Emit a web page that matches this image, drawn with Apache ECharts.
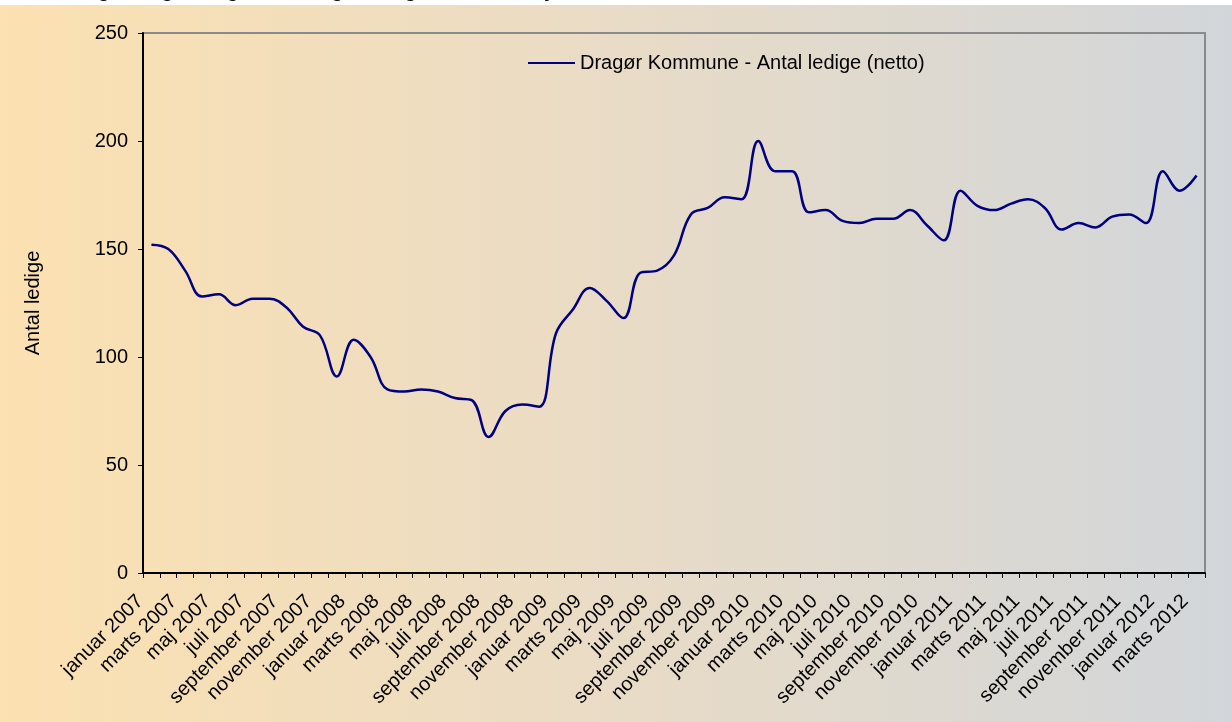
<!DOCTYPE html>
<html>
<head>
<meta charset="utf-8">
<script src="https://cdn.jsdelivr.net/npm/echarts@6/dist/echarts.min.js"></script>
<style>
html,body{margin:0;padding:0;background:#fff;}
#chart{width:1232px;height:722px;}
</style>
</head>
<body>
<div id="chart"></div>
<script>
const categories = [
  "januar 2007","februar 2007","marts 2007","april 2007","maj 2007","juni 2007","juli 2007","august 2007","september 2007","oktober 2007","november 2007","december 2007",
  "januar 2008","februar 2008","marts 2008","april 2008","maj 2008","juni 2008","juli 2008","august 2008","september 2008","oktober 2008","november 2008","december 2008",
  "januar 2009","februar 2009","marts 2009","april 2009","maj 2009","juni 2009","juli 2009","august 2009","september 2009","oktober 2009","november 2009","december 2009",
  "januar 2010","februar 2010","marts 2010","april 2010","maj 2010","juni 2010","juli 2010","august 2010","september 2010","oktober 2010","november 2010","december 2010",
  "januar 2011","februar 2011","marts 2011","april 2011","maj 2011","juni 2011","juli 2011","august 2011","september 2011","oktober 2011","november 2011","december 2011",
  "januar 2012","februar 2012","marts 2012"
];
const seriesName = "Dragør Kommune - Antal ledige (netto)";
const ledige = [
  152,150,140,128,129,124,127,127,123,114,110,91,
  108,100,85,84,85,84,81,80,63,75,78,77,
  111,122,132,126,118,139,140,147,166,169,174,173,
  200,186,186,167,168,163,162,164,164,168,161,154,
  177,170,168,171,173,169,159,162,160,165,166,162,
  186,177,184
];
const yTicks = [0, 50, 100, 150, 200, 250];
const titleText = "Udvikling i ledighed og antal ledige i Dragør Kommune januar 2007 - marts 2012";
const yAxisTitle = "Antal ledige";

const font = "Liberation Sans, Arial, sans-serif";
const chart = echarts.init(document.getElementById('chart'), null, {renderer: 'canvas'});
chart.setOption({
  animation: false,
  backgroundColor: '#ffffff',
  graphic: [
    {
      type: 'rect', z: -10, silent: true,
      shape: {x: 0, y: 5, width: 1232, height: 717},
      style: {
        fill: new echarts.graphic.LinearGradient(0, 0, 1, 0, [
          {offset: 0, color: '#FCE1B1'},
          {offset: 0.45, color: '#EBDCC4'},
          {offset: 1, color: '#D2D6DA'}
        ])
      }
    },
    {
      type: 'text', z: 10, silent: true,
      left: 20, top: -19,
      style: {text: titleText, font: 'bold 20px ' + font, fill: '#000'}
    }
  ],
  legend: {
    show: true,
    left: 528, top: 53, padding: 0,
    itemWidth: 47, itemHeight: 14, itemGap: 10,
    icon: 'path://M0,6 L47,6 L47,8 L0,8 Z',
    textStyle: {fontFamily: font, fontSize: 20, color: '#000'},
    data: [{name: seriesName, itemStyle: {color: '#000080'}}]
  },
  grid: {
    left: 143, right: 27, top: 33, bottom: 149,
    show: true, borderColor: '#8a8a8a', borderWidth: 2, backgroundColor: 'transparent'
  },
  xAxis: {
    type: 'category',
    data: categories,
    boundaryGap: true,
    axisLine: {lineStyle: {color: '#000', width: 2}},
    axisTick: {show: true, interval: 0, length: 5, lineStyle: {color: '#000', width: 1}},
    axisLabel: {
      interval: 1, rotate: 45, margin: 14,
      padding: [0, 16, 0, 0],
      fontFamily: font, fontSize: 20, color: '#000'
    },
    splitLine: {show: false}
  },
  yAxis: {
    type: 'value',
    min: yTicks[0], max: yTicks[yTicks.length - 1], interval: 50,
    name: yAxisTitle, nameLocation: 'middle', nameGap: 100, nameRotate: 90,
    nameTextStyle: {fontFamily: font, fontSize: 20, color: '#000'},
    axisLine: {show: true, lineStyle: {color: '#000', width: 2}},
    axisTick: {show: true, length: 5, lineStyle: {color: '#000', width: 1}},
    axisLabel: {margin: 15, fontFamily: font, fontSize: 20, color: '#000'},
    splitLine: {show: false}
  },
  series: [{
    name: seriesName,
    type: 'line',
    data: ledige,
    smooth: 0.4,
    symbol: 'none',
    lineStyle: {color: '#000080', width: 2.5},
    itemStyle: {color: '#000080'}
  }]
});
</script>
</body>
</html>
